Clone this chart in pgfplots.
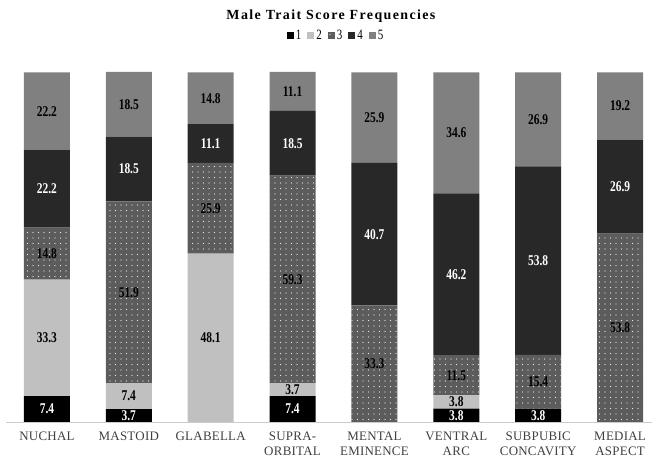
\documentclass[border=0pt]{standalone}
\usepackage{fontspec}
\setmainfont{Liberation Serif}
\newfontfamily\tickfont[LetterSpace=2]{Liberation Serif}
\newfontfamily\titlefont[LetterSpace=10]{Liberation Serif}
\usepackage{pgfplots}
\pgfplotsset{compat=1.18}
\usetikzlibrary{patterns.meta}
\definecolor{cA}{HTML}{000000}
\definecolor{cB}{HTML}{C0C0C0}
\definecolor{cC}{HTML}{5C5C5C}
\definecolor{cD}{HTML}{282828}
\definecolor{cE}{HTML}{808080}
\pgfplotsset{base/.style={
  at={(6bp,36bp)}, anchor=south west, scale only axis,
  width=646bp, height=350bp,
  xmin=-0.5, xmax=7.39, ymin=0, ymax=100,
}}
\newcommand{\tall}[1]{\scalebox{1}[1.3]{#1}}
\begin{document}
\begin{tikzpicture}
\useasboundingbox (0,0) rectangle (656bp,458bp);
\begin{axis}[base,
  ybar stacked, bar width=46bp,
  axis x line=bottom, axis y line=none,
  x axis line style={draw=gray!40, line width=0.8pt, -},
  xtick={0,...,7}, major tick length=0pt,
  xticklabels={NUCHAL, MASTOID, GLABELLA, {SUPRA-\\ORBITAL}, {MENTAL\\EMINENCE}, {VENTRAL\\ARC}, {SUBPUBIC\\CONCAVITY}, {MEDIAL\\ASPECT}},
  xticklabel style={align=center, font=\fontsize{13}{15}\tickfont, text=black!75, anchor=north, inner sep=0pt, yshift=-10bp},
  title={Male Trait Score Frequencies},
  title style={at={(0.503,1.143)}, anchor=center, yshift=0pt, font=\fontsize{14}{15}\titlefont\bfseries},
  legend style={at={(0.511,1.103)}, anchor=center, draw=none, fill=none, legend columns=-1,
    font=\fontsize{11}{12}\selectfont, /tikz/every even column/.append style={column sep=4bp}},
  legend image code/.code={\path[#1] (0bp,-3.5bp) rectangle (7bp,3.5bp);},
]
\addplot[fill=cA, draw=none] coordinates {(0,7.4) (1,3.7) (2,0) (3,7.4) (4,0) (5,3.8) (6,3.8) (7,0)};
\addplot[fill=cB, draw=none] coordinates {(0,33.3) (1,7.4) (2,48.1) (3,3.7) (4,0) (5,3.8) (6,0) (7,0)};
\addplot[fill=cC, draw=none, postaction={pattern={Dots[distance=5.5bp, radius=0.6bp]}, pattern color=white!85!gray}] coordinates {(0,14.8) (1,51.9) (2,25.9) (3,59.3) (4,33.3) (5,11.5) (6,15.4) (7,53.8)};
\addplot[fill=cD, draw=none] coordinates {(0,22.2) (1,18.5) (2,11.1) (3,18.5) (4,40.7) (5,46.2) (6,53.8) (7,26.9)};
\addplot[fill=cE, draw=none] coordinates {(0,22.2) (1,18.5) (2,14.8) (3,11.1) (4,25.9) (5,34.6) (6,26.9) (7,19.2)};
\legend{\tall{1},\tall{2},\tall{3},\tall{4},\tall{5}}
\end{axis}
\begin{axis}[base, hide axis, clip=false,
  nodes near coords, nodes near coords align=center, point meta=explicit symbolic,
  every node near coord/.append style={font=\fontsize{11.5}{12}\selectfont\bfseries, yscale=1.3, inner sep=0.5pt}]
\addplot[draw=none, every node near coord/.append style={text=white}]
 coordinates {(0,3.7)[7.4] (1,1.85)[3.7] (3,3.7)[7.4] (5,1.9)[3.8] (6,1.9)[3.8]};
\addplot[draw=none, every node near coord/.append style={text=black}]
 coordinates {(0,24.05)[33.3] (1,7.4)[7.4] (2,24.05)[48.1] (3,9.25)[3.7] (5,5.8)[3.8]};
\addplot[draw=none, every node near coord/.append style={text=black}]
 coordinates {(0,48.1)[14.8] (1,37.05)[51.9] (2,61.05)[25.9] (3,40.75)[59.3] (4,16.65)[33.3] (5,13.35)[11.5] (6,11.5)[15.4] (7,26.9)[53.8]};
\addplot[draw=none, every node near coord/.append style={text=white}]
 coordinates {(0,66.6)[22.2] (1,72.25)[18.5] (2,79.55)[11.1] (3,79.65)[18.5] (4,53.65)[40.7] (5,42.2)[46.2] (6,46.1)[53.8] (7,67.25)[26.9]};
\addplot[draw=none, every node near coord/.append style={text=black}]
 coordinates {(0,88.8)[22.2] (1,90.75)[18.5] (2,92.5)[14.8] (3,94.45)[11.1] (4,86.95)[25.9] (5,82.6)[34.6] (6,86.45)[26.9] (7,90.3)[19.2]};
\end{axis}
\end{tikzpicture}
\end{document}
